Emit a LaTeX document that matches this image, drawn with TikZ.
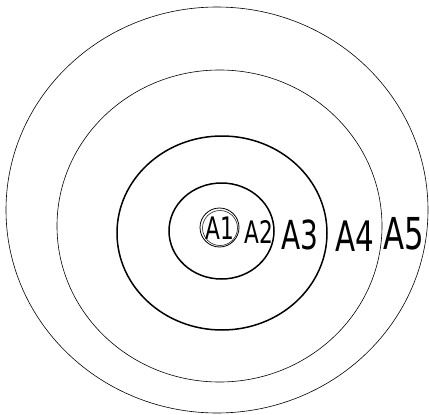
\documentclass[tikz,border=0pt]{standalone}
\usepackage{fontspec}
\setsansfont{DejaVu Sans}
\begin{document}
\begin{tikzpicture}[x=1pt,y=-1pt,
  thin ring/.style={draw=black,line width=0.6pt},
  thick ring/.style={draw=black,line width=1.5pt},
  lab/.style={font=\sffamily\fontsize{#1}{#1}\selectfont,inner sep=0pt,xscale=0.7}]
\useasboundingbox (0,0) rectangle (429,415);
\draw[thin ring] (217,210) ellipse [x radius=211,y radius=203];
\draw[thin ring] (219.5,226) ellipse [x radius=162.5,y radius=156];
\draw[thick ring] (222,233) ellipse [x radius=105,y radius=97];
\draw[thick ring] (221.5,231) ellipse [x radius=52.5,y radius=48];
\draw[line width=0.8pt] (219.5,227.5) circle [radius=19.5];
\draw[line width=0.5pt] (220,228) circle [radius=17.5];
\node[lab=31] (a1) at (220,228) {A1};
\node[lab=31] (a2) at (258.5,232) {A2};
\node[lab=40] (a3) at (300,235) {A3};
\node[lab=42] (a4) at (355,236) {A4};
\node[lab=44] (a5) at (404,234) {A5};
\end{tikzpicture}
\end{document}
